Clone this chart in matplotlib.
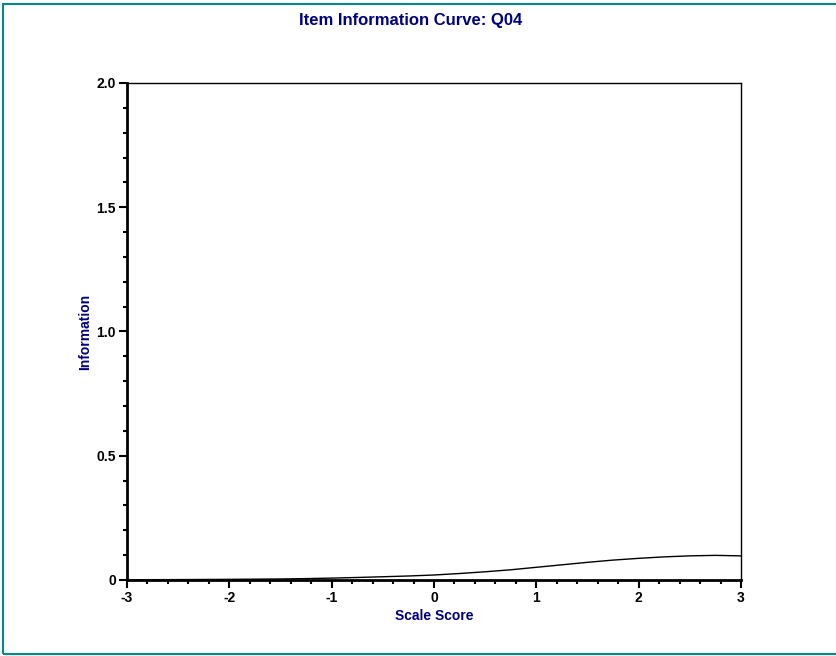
import matplotlib
matplotlib.use("Agg")
import matplotlib.pyplot as plt
from matplotlib.patches import Rectangle
from matplotlib.ticker import MultipleLocator

plt.rcParams['font.family'] = ['Liberation Sans', 'DejaVu Sans']

# values
theta = [-3.0, -2.75, -2.5, -2.25, -2.0, -1.75, -1.5, -1.25, -1.0, -0.75,
         -0.5, -0.25, 0.0, 0.25, 0.5, 0.75, 1.0, 1.25, 1.5, 1.75,
         2.0, 2.25, 2.5, 2.75, 3.0]
info = [0.001, 0.0012, 0.0015, 0.002, 0.0025, 0.0032, 0.004, 0.0055, 0.0075, 0.010,
        0.013, 0.016, 0.020, 0.026, 0.033, 0.041, 0.051, 0.061, 0.071, 0.080,
        0.087, 0.093, 0.097, 0.099, 0.097]

x_ticks = [-3, -2, -1, 0, 1, 2, 3]
x_labels = ['-3', '-2', '-1', '0', '1', '2', '3']
y_ticks = [0, 0.5, 1.0, 1.5, 2.0]
y_labels = ['0', '0.5', '1.0', '1.5', '2.0']

navy = '#000080'

fig = plt.figure(figsize=(8.37, 6.56), dpi=100)
ax = fig.add_axes([0.1517, 0.1159, 0.7336, 0.7576])

ax.plot(theta, info, color='black', lw=1.0)

ax.set_xlim(-3, 3)
ax.set_ylim(0, 2.0)
ax.set_xticks(x_ticks)
ax.set_xticklabels(x_labels)
ax.set_yticks(y_ticks)
ax.set_yticklabels(y_labels)
ax.xaxis.set_minor_locator(MultipleLocator(0.2))
ax.yaxis.set_minor_locator(MultipleLocator(0.1))

ax.tick_params(which='major', direction='out', length=6, width=1.5,
               labelsize=10, pad=2)
ax.tick_params(which='minor', direction='out', length=3, width=1.5)
for lab in ax.get_xticklabels() + ax.get_yticklabels():
    lab.set_fontweight('bold')

ax.spines['left'].set_linewidth(2)
ax.spines['bottom'].set_linewidth(2)
ax.spines['top'].set_linewidth(1)
ax.spines['right'].set_linewidth(1)

ax.set_xlabel('Scale Score', color=navy, fontsize=10, fontweight='bold', labelpad=3)
ax.set_ylabel('Information', color=navy, fontsize=10, fontweight='bold', labelpad=3)
fig.text(0.49, 0.9695, 'Item Information Curve: Q04', color=navy,
         fontsize=12, fontweight='bold', ha='center', va='center')

# teal frame around the whole chart
fig.patches.append(Rectangle((2.5 / 837, 2.5 / 656), 1.0, 1 - 6.5 / 656,
                             transform=fig.transFigure, fill=False,
                             edgecolor='#008b8b', lw=1.5, clip_on=False))

fig.savefig('out.png', dpi=100)
